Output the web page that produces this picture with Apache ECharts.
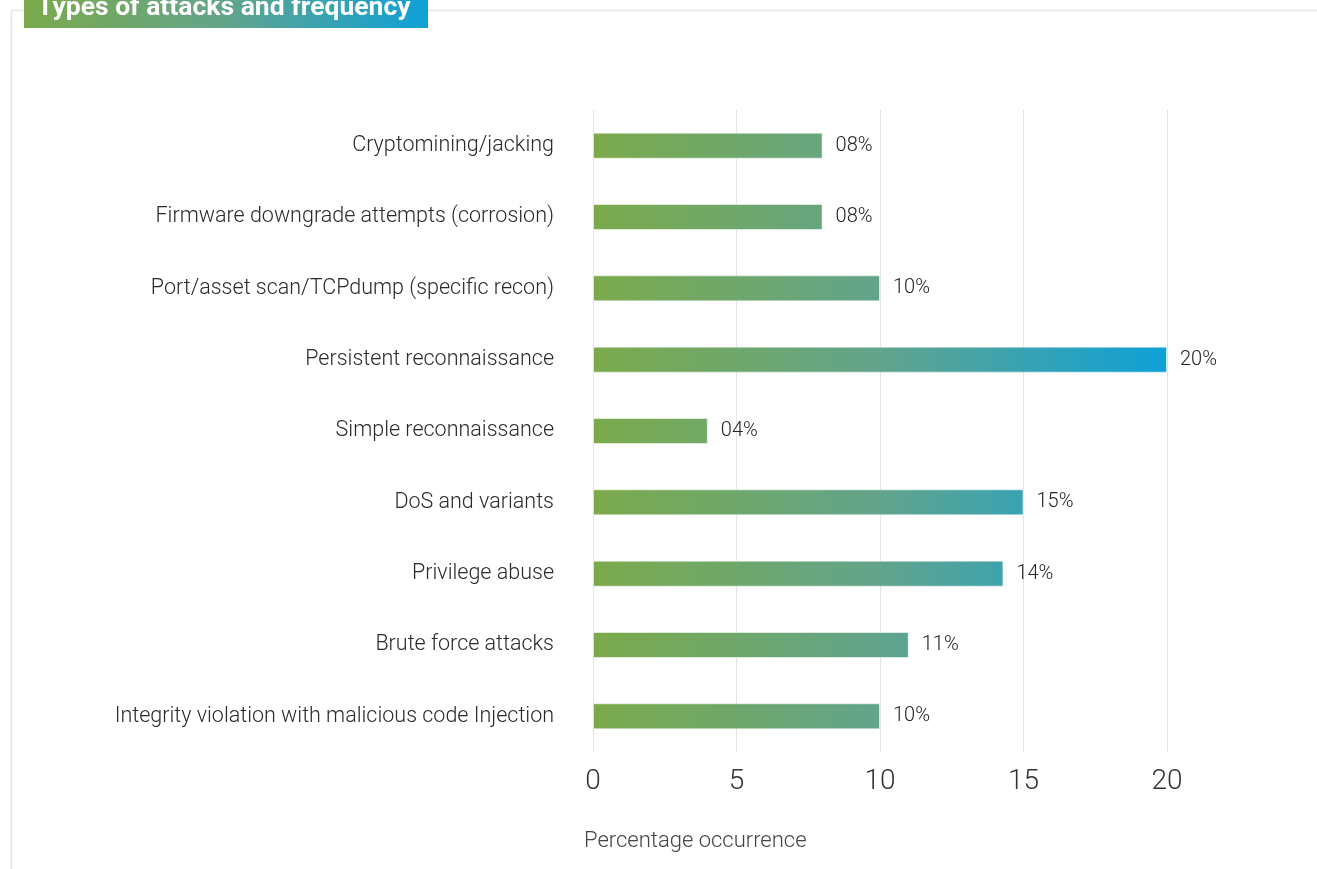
<!DOCTYPE html>
<html>
<head>
<meta charset="utf-8">
<script src="https://cdn.jsdelivr.net/npm/echarts@6/dist/echarts.min.js"></script>
<style>
html,body{margin:0;padding:0;background:#fff;}
#chart{width:1317px;height:869px;}
</style>
</head>
<body>
<div id="chart"></div>
<script>
const categories = [
  "Cryptomining/jacking",
  "Firmware downgrade attempts (corrosion)",
  "Port/asset scan/TCPdump (specific recon)",
  "Persistent reconnaissance",
  "Simple reconnaissance",
  "DoS and variants",
  "Privilege abuse",
  "Brute force attacks",
  "Integrity violation with malicious code Injection"
];
const values = [8, 8, 10, 20, 4, 15, 14.3, 11, 10];
const xTicks = [0, 5, 10, 15, 20];
const titleText = "Types of attacks and frequency";
const axisName = "Percentage occurrence";

// global gradient stops along the value axis (0..20)
const gradStops = [
  {offset: 0, rgb: [123, 170, 75]},
  {offset: 0.5, rgb: [98, 164, 140]},
  {offset: 1, rgb: [14, 161, 216]}
];
const AXMAX = 20;
function colorAt(t) {
  for (let i = 1; i < gradStops.length; i++) {
    const a = gradStops[i - 1], b = gradStops[i];
    if (t <= b.offset) {
      const u = (t - a.offset) / (b.offset - a.offset);
      return 'rgb(' + a.rgb.map((c, k) => Math.round(c + (b.rgb[k] - c) * u)).join(',') + ')';
    }
  }
  return 'rgb(' + gradStops[gradStops.length - 1].rgb.join(',') + ')';
}
function barStops(v) {
  const t = v / AXMAX;
  const s = [];
  gradStops.forEach(g => { if (g.offset < t) s.push({offset: g.offset / t, color: colorAt(g.offset)}); });
  s.push({offset: 1, color: colorAt(t)});
  return s;
}

const chart = echarts.init(document.getElementById('chart'), null, {renderer: 'canvas'});
chart.setOption({
  backgroundColor: '#fff',
  animation: false,
  grid: {left: 593, right: 150, top: 110, height: 642, containLabel: false},
  xAxis: {
    type: 'value', min: xTicks[0], max: xTicks[xTicks.length - 1], interval: 5,
    axisLine: {show: false}, axisTick: {show: false},
    splitLine: {show: true, lineStyle: {color: '#e3e3e3', width: 1}},
    axisLabel: {fontFamily: 'Roboto', fontWeight: 300, fontSize: 28, color: '#333', margin: 16}
  },
  yAxis: {
    type: 'category', data: categories, inverse: true,
    axisLine: {show: false}, axisTick: {show: false},
    axisLabel: {fontFamily: 'Roboto', fontWeight: 300, fontSize: 21.5, color: '#2a2a2a', margin: 39}
  },
  series: [{
    type: 'bar', data: values, barWidth: 26,
    itemStyle: {
      borderColor: 'rgba(255,255,255,0.5)', borderWidth: 1,
      color: function (p) {
        return new echarts.graphic.LinearGradient(0, 0, 1, 0, barStops(p.value));
      }
    },
    label: {
      show: true, position: 'right', distance: 13,
      fontFamily: 'Roboto', fontWeight: 300, fontSize: 20, color: '#222',
      formatter: function (p) { return String(Math.round(p.value)).padStart(2, '0') + '%'; }
    }
  }],
  graphic: [
    {type: 'rect', left: 9, top: 8, shape: {width: 1310, height: 880}, style: {fill: 'none', stroke: '#e6e6e6', lineWidth: 1.5}, z: 1},
    {type: 'rect', left: 24, top: -2, shape: {width: 404, height: 30},
      style: {fill: new echarts.graphic.LinearGradient(0, 0, 1, 0, [{offset: 0, color: colorAt(0)}, {offset: 0.5, color: colorAt(0.5)}, {offset: 1, color: colorAt(1)}])}, z: 10},
    {type: 'text', x: 37, y: 8, style: {text: titleText, fill: '#fff', font: 'bold 26.5px Roboto', verticalAlign: 'middle'}, z: 11},
    {type: 'text', left: 584, top: 830, style: {text: axisName, fill: '#444', font: '300 22px Roboto'}, z: 11}
  ]
});
</script>
</body>
</html>
